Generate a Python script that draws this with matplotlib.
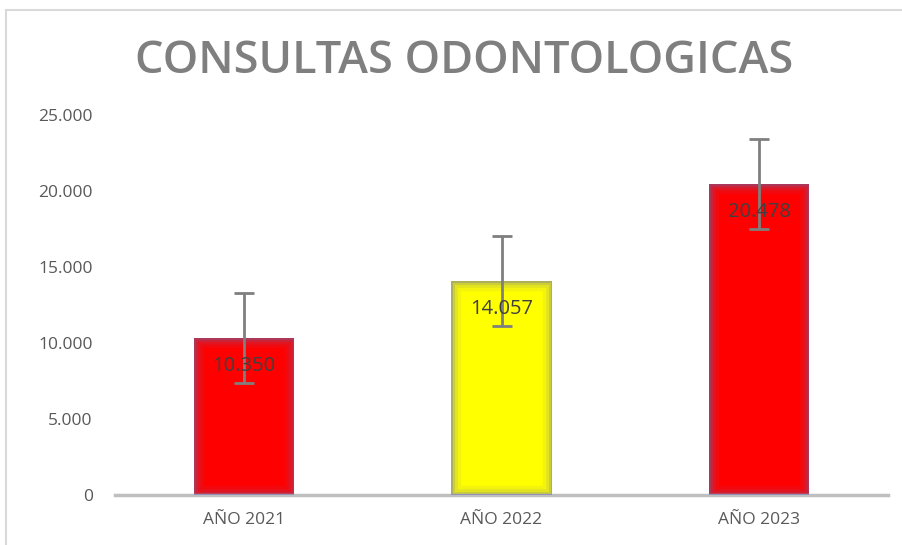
import matplotlib.pyplot as plt
from matplotlib.patches import Rectangle
from matplotlib.ticker import FuncFormatter

categories = ['AÑO 2021', 'AÑO 2022', 'AÑO 2023']
values = [10350, 14057, 20478]
errors = [2958, 2958, 2958]
colors = ['#ff0000', '#ffff00', '#ff0000']

plt.rcParams['font.family'] = ['Open Sans', 'DejaVu Sans']

fig = plt.figure(figsize=(9.03, 5.45), dpi=100)
ax = fig.add_axes([0.1274, 0.0917, 0.856, 0.6973])

x = range(len(categories))
bars = ax.bar(x, values, width=0.39, color=colors, zorder=2)

# soft purple glow along the bar edges
for b in bars:
    for lw, a in [(14, 0.08), (9, 0.12), (5, 0.18), (2, 0.3)]:
        r = Rectangle(b.get_xy(), b.get_width(), b.get_height(), fill=False,
                      edgecolor=(0.40, 0.42, 0.68, a), linewidth=lw, zorder=3)
        ax.add_patch(r)
        r.set_clip_path(b)

ax.errorbar(x, values, yerr=errors, fmt='none', ecolor='#7f7f7f', elinewidth=2,
            capsize=7, capthick=2, zorder=4)

for xi, v in zip(x, values):
    ax.annotate(f'{v:,}'.replace(',', '.'), (xi, v), xytext=(0, -28),
                textcoords='offset pixels', ha='center', va='center',
                fontsize=14.5, color='#404040', zorder=5)

ax.set_xlim(-0.5, 2.5)
ax.set_ylim(0, 25000)
ax.set_yticks([0, 5000, 10000, 15000, 20000, 25000])
ax.yaxis.set_major_formatter(FuncFormatter(lambda v, p: f'{int(v):,}'.replace(',', '.')))
ax.set_xticks(list(x))
ax.set_xticklabels(categories)
ax.tick_params(axis='both', length=0, labelsize=12.5, labelcolor='#595959')
ax.tick_params(axis='y', pad=16)
ax.tick_params(axis='x', pad=12)

for s in ['top', 'right', 'left']:
    ax.spines[s].set_visible(False)
ax.spines['bottom'].set_color('#bfbfbf')
ax.spines['bottom'].set_linewidth(2.5)

fig.text(0.514, 0.888, 'CONSULTAS ODONTOLOGICAS', ha='center', va='center',
         fontsize=32.5, fontweight='semibold', color='#7f7f7f')

fig.patches.append(Rectangle((6 / 903, -0.1), 1.0, 1.1 - 10 / 545, transform=fig.transFigure,
                             fill=False, edgecolor='#d9d9d9', linewidth=1.5))

fig.savefig('out.png', dpi=100)
